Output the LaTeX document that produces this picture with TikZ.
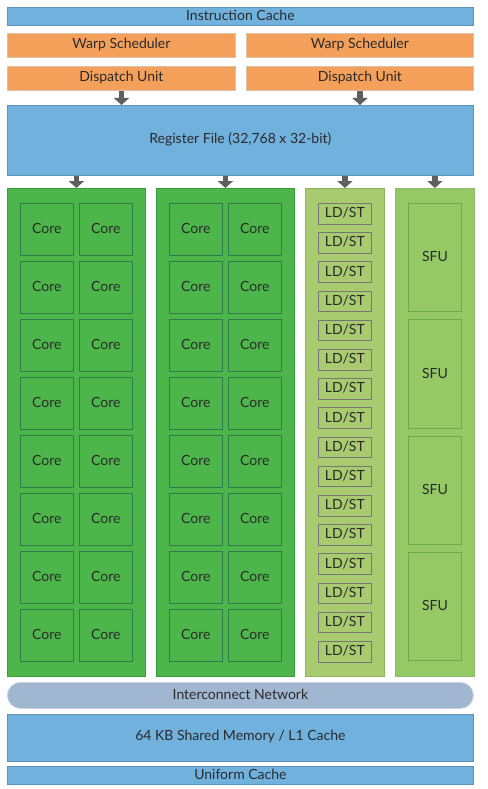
\documentclass[tikz,border=0pt]{standalone}
\usepackage{fontspec}
\setmainfont{Lato}
\usetikzlibrary{arrows.meta}
\definecolor{cblue}{HTML}{71B1DE}
\definecolor{cblueb}{HTML}{5E93BC}
\definecolor{corange}{HTML}{F4A05A}
\definecolor{corangeb}{HTML}{D9C3A8}
\definecolor{cgreen}{HTML}{4CB64A}
\definecolor{cgreenb}{HTML}{3A9E3C}
\definecolor{ccoreb}{HTML}{2F7D4C}
\definecolor{cldst}{HTML}{A9CB6F}
\definecolor{cldstb}{HTML}{8FB25C}
\definecolor{csfu}{HTML}{95C966}
\definecolor{csfub}{HTML}{6FA84A}
\definecolor{cnet}{HTML}{A1B6D0}
\definecolor{cnetb}{HTML}{C9D3DF}
\definecolor{ctext}{HTML}{2A2A2A}
\definecolor{carrow}{HTML}{5F5F5F}
\tikzset{
  x=1pt,y=-1pt,
  lbl/.style={text=ctext,font=\fontsize{14}{16}\selectfont,inner sep=0pt,yshift=0.8pt},
  bluebox/.style={fill=cblue,draw=cblueb,line width=0.8pt},
  orangebox/.style={fill=corange,draw=corangeb,line width=0.8pt},
  coreblock/.style={fill=cgreen,draw=cgreenb,line width=0.8pt},
  corebox/.style={fill=cgreen,draw=ccoreb,line width=0.7pt},
  ldblock/.style={fill=cldst,draw=cldstb,line width=0.8pt},
  ldbox/.style={fill=cldst,draw=carrow!85,line width=0.8pt},
  sfublock/.style={fill=csfu,draw=csfub!80,line width=0.8pt},
  sfubox/.style={fill=csfu,draw=csfub,line width=0.8pt},
  netbox/.style={fill=cnet,draw=cnetb,line width=0.8pt,rounded corners=13pt},
  fatarrow/.style={draw=carrow,line width=5.5pt,-{Triangle[width=15pt,length=7pt]}},
}
\newcommand{\boxat}[6]{% style, name, x1, y1, x2, y2
  \node[#1,minimum width={#5-#3},minimum height={#6-#4},anchor=north west,inner sep=0pt] (#2) at (#3,#4) {};}
\begin{document}
\begin{tikzpicture}
\useasboundingbox (0,0) rectangle (487,789);
\fill[white] (0,0) rectangle (487,789);
% top
\boxat{bluebox}{icache}{7}{7}{473}{25}
\node[lbl] at (icache.center) {Instruction Cache};
\boxat{orangebox}{ws1}{7}{33}{235}{57}
\node[lbl] at (ws1.center) {Warp Scheduler};
\boxat{orangebox}{ws2}{246}{33}{473}{57}
\node[lbl] at (ws2.center) {Warp Scheduler};
\boxat{orangebox}{du1}{7}{66}{235}{90}
\node[lbl] at (du1.center) {Dispatch Unit};
\boxat{orangebox}{du2}{246}{66}{473}{90}
\node[lbl] at (du2.center) {Dispatch Unit};
\boxat{bluebox}{reg}{7}{105}{473}{175}
\node[lbl] at (reg.center) {Register File (32,768 x 32-bit)};
% blocks
\boxat{coreblock}{cb1}{7}{188}{145}{676}
\boxat{coreblock}{cb2}{156}{188}{294}{676}
\boxat{ldblock}{ldb}{305}{188}{384}{676}
\boxat{sfublock}{sfb}{395}{188}{474}{676}
% arrows
\coordinate (a1) at (121.5,90);
\coordinate (a2) at (360,90);
\draw[fatarrow] (du1.south -| a1) -- (reg.north -| a1);
\draw[fatarrow] (du2.south -| a2) -- (reg.north -| a2);
\draw[fatarrow] (reg.south -| cb1.north) -- (cb1.north);
\draw[fatarrow] (reg.south -| cb2.north) -- (cb2.north);
\draw[fatarrow] (reg.south -| ldb.north) -- (ldb.north);
\draw[fatarrow] (reg.south -| sfb.north) -- (sfb.north);
% cores
\foreach \b/\bx in {1/7,2/156}{
  \foreach \r in {0,...,7}{
    \foreach \c/\cx in {0/13.3,1/72.3}{
      \pgfmathsetmacro{\xa}{\bx+\cx}
      \pgfmathsetmacro{\ya}{203+58*\r}
      \boxat{corebox}{core\b\r\c}{\xa}{\ya}{\xa+52.4}{\ya+51.7}
      \node[lbl] at (core\b\r\c.center) {Core};
    }
  }
}
% LD/ST
\foreach \r in {0,...,15}{
  \pgfmathsetmacro{\ya}{203+29.2*\r}
  \boxat{ldbox}{ld\r}{318.3}{\ya}{370.7}{\ya+20.5}
  \node[lbl] at (ld\r.center) {LD/ST};
}
% SFU
\foreach \r in {0,...,3}{
  \pgfmathsetmacro{\ya}{203+116.3*\r}
  \boxat{sfubox}{sfu\r}{408.3}{\ya}{460.7}{\ya+108.4}
  \node[lbl] at (sfu\r.center) {SFU};
}
% bottom
\boxat{netbox}{net}{7}{682}{473}{708}
\node[lbl] at (net.center) {Interconnect Network};
\boxat{bluebox}{smem}{7}{714}{473}{760.5}
\node[lbl] at (smem.center) {64 KB Shared Memory / L1 Cache};
\boxat{bluebox}{ucache}{7}{766}{473}{784}
\node[lbl] at (ucache.center) {Uniform Cache};
\end{tikzpicture}
\end{document}
